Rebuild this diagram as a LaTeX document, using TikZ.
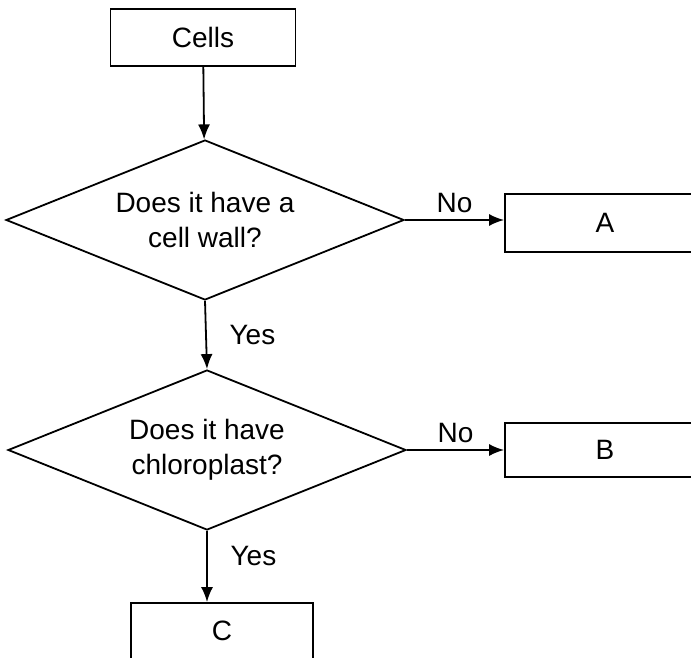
\documentclass[tikz,border=0pt]{standalone}
\usepackage{fontspec}
\setmainfont{Liberation Sans}
\usetikzlibrary{shapes.geometric,arrows.meta}

\begin{document}
\begin{tikzpicture}[
    x=0.5pt, y=-0.5pt,
    every node/.style={font=\fontsize{14}{17.5}\selectfont},
    box/.style={rectangle, draw, line width=0.9pt, inner sep=0pt},
    decision/.style={diamond, draw, line width=0.9pt, inner sep=0pt, aspect=2.45,
                     align=center, minimum width=199pt, minimum height=80pt},
    flow/.style={line width=0.9pt, -{Latex[length=7.5pt,width=6pt]}}
]
\clip (0,0) rectangle (691,658);

\node[box, minimum width=92.5pt, minimum height=28.5pt] (cells) at (203,37.5) {Cells};
\node[decision] (wall) at (205,220) {Does it have a\\cell wall?};
\node[box, minimum width=100pt, minimum height=29pt] (A) at (605,223) {A};
\node[decision] (chloro) at (207,450) {Does it have\\chloroplast?};
\node[box, minimum width=100pt, minimum height=27pt] (B) at (605,450) {B};
\node[box, minimum width=91pt, minimum height=28pt] (C) at (222,631) {C};

\draw[flow] (cells) -- (wall);
\draw[flow] (wall.east) -- (wall.east -| A.west) node[midway, above] {No};
\draw[flow] (wall.south) -- (chloro.north) node[midway, right=8pt] {Yes};
\draw[flow] (chloro.east) -- (chloro.east -| B.west) node[midway, above] {No};
\draw[flow] (chloro.south) -- (chloro.south |- C.north) node[pos=0.35, right=8pt] {Yes};
\end{tikzpicture}
\end{document}
